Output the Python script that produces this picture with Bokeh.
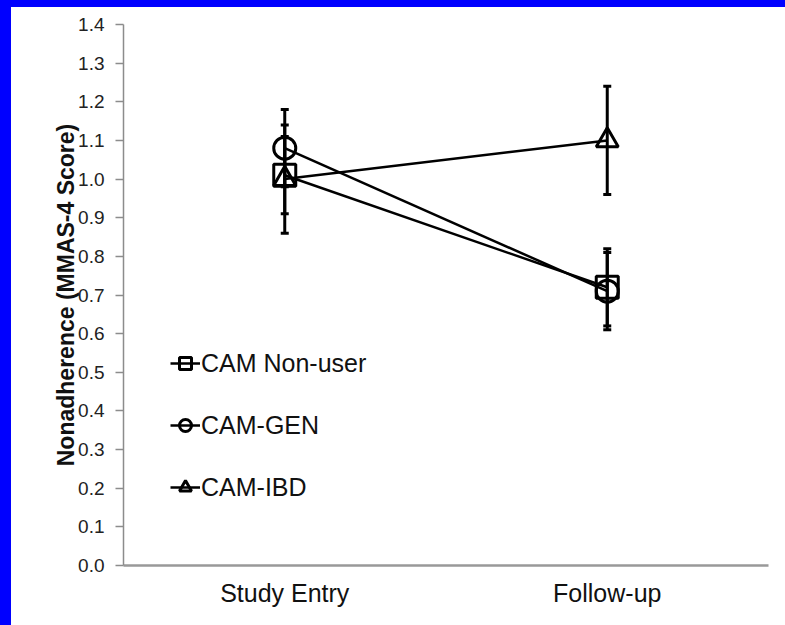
from bokeh.plotting import figure
from bokeh.models import (ColumnDataSource, Whisker, TeeHead, Legend, LegendItem,
                          FixedTicker, GlobalInlineStyleSheet, InlineStyleSheet)
from bokeh.embed import file_html
from bokeh.resources import INLINE

# ---- data ----
timepoints = ["Study Entry", "Follow-up"]
nonuser_mean = [1.01, 0.72]
nonuser_err = [0.10, 0.10]
gen_mean = [1.08, 0.71]
gen_err = [0.10, 0.10]
ibd_mean = [1.00, 1.10]
ibd_err = [0.14, 0.14]
series_names = ["CAM Non-user", "CAM-GEN", "CAM-IBD"]
y_ticks = [0.0, 0.1, 0.2, 0.3, 0.4, 0.5, 0.6, 0.7, 0.8, 0.9, 1.0, 1.1, 1.2, 1.3, 1.4]
y_tick_labels = ["0.0", "0.1", "0.2", "0.3", "0.4", "0.5", "0.6", "0.7",
                 "0.8", "0.9", "1.0", "1.1", "1.2", "1.3", "1.4"]

FONT = "Liberation Sans"

p = figure(x_range=timepoints, y_range=(0, 1.4), width=774, height=618,
           output_backend="svg", toolbar_location=None,
           min_border_left=112, min_border_right=17, min_border_top=17,
           min_border_bottom=60)
p.stylesheets = [
    GlobalInlineStyleSheet(css="body{margin:7px 0 0 11px !important;background:#0000ff;}"),
    InlineStyleSheet(css=":host{background-color:#ffffff;}"),
]
p.outline_line_color = None
p.xgrid.grid_line_color = None
p.ygrid.grid_line_color = None
p.background_fill_color = "white"
p.border_fill_color = "white"

# y axis
p.yaxis.ticker = FixedTicker(ticks=y_ticks)
p.yaxis.major_label_overrides = {t: l for t, l in zip(y_ticks, y_tick_labels)}
p.yaxis.axis_line_color = "#8c8c8c"
p.yaxis.axis_line_width = 1.5
p.yaxis.major_tick_line_color = "#8c8c8c"
p.yaxis.major_tick_line_width = 1.5
p.yaxis.major_tick_in = 0
p.yaxis.major_tick_out = 8
p.yaxis.minor_tick_line_color = None
p.yaxis.major_label_standoff = 11
p.yaxis.major_label_text_font = FONT
p.yaxis.major_label_text_font_size = "19px"
p.yaxis.major_label_text_color = "#222222"
p.yaxis.axis_label = "Nonadherence (MMAS-4 Score)"
p.yaxis.axis_label_text_font = FONT
p.yaxis.axis_label_text_font_size = "23px"
p.yaxis.axis_label_text_font_style = "bold"
p.yaxis.axis_label_text_color = "#111111"
p.yaxis.axis_label_standoff = -4

# x axis
p.xaxis.axis_line_color = "#999999"
p.xaxis.axis_line_width = 2.5
p.xaxis.major_tick_line_color = None
p.xaxis.major_tick_in = 0
p.xaxis.major_tick_out = 0
p.xaxis.major_label_standoff = 13
p.xaxis.major_label_text_font = FONT
p.xaxis.major_label_text_font_size = "25px"
p.xaxis.major_label_text_color = "#111111"

means = [nonuser_mean, gen_mean, ibd_mean]
errs = [nonuser_err, gen_err, ibd_err]
markers = ["square", "circle", "triangle"]

items = []
sources = []
for m, e in zip(means, errs):
    src = ColumnDataSource(dict(x=timepoints, y=m,
                                upper=[a + b for a, b in zip(m, e)],
                                lower=[a - b for a, b in zip(m, e)]))
    sources.append(src)
    w = Whisker(base="x", upper="upper", lower="lower", source=src,
                line_color="black", line_width=3,
                upper_head=TeeHead(size=8, line_width=3, line_color="black"),
                lower_head=TeeHead(size=8, line_width=3, line_color="black"))
    p.add_layout(w)

for name, src, mk in zip(series_names, sources, markers):
    lr = p.line("x", "y", source=src, line_color="black", line_width=2.5)
    sr = p.scatter("x", "y", source=src, marker=mk, size=22, fill_color=None,
                   line_color="black", line_width=3)
    items.append(LegendItem(label=name, renderers=[lr, sr]))

legend = Legend(items=items, location=(47, 62), orientation="vertical",
                glyph_width=30, glyph_height=32, label_height=28,
                label_standoff=1, spacing=30, padding=0, margin=0,
                border_line_color=None, background_fill_alpha=0,
                label_text_font=FONT, label_text_font_size="25px",
                label_text_color="#111111")
p.add_layout(legend)

open("out.html", "w").write(file_html(p, INLINE))
